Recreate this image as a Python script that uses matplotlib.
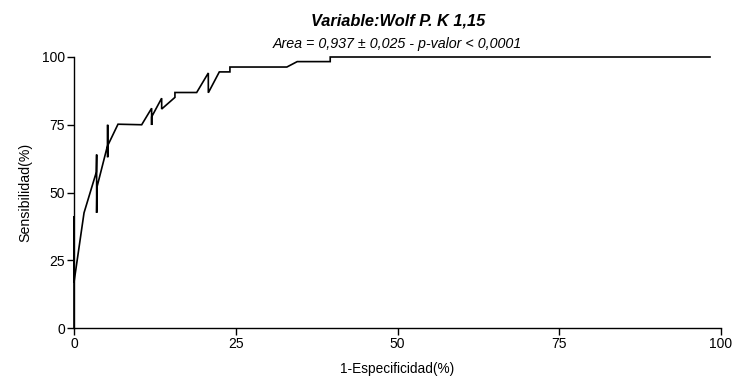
import matplotlib
matplotlib.use("Agg")
import matplotlib.pyplot as plt

plt.rcParams['font.family'] = ['Liberation Sans', 'DejaVu Sans']

# ROC curve vertices (1-Especificidad %, Sensibilidad %)
fpr = [0, 0, 0, 1.55, 3.45, 3.5, 3.5, 3.55, 5.2, 5.2, 5.2, 5.25, 6.8,
       10.46, 12.0, 12.0, 12.0, 13.55, 13.55, 15.6, 15.6, 18.96, 20.76,
       20.76, 22.46, 24.1, 24.1, 32.9, 34.5, 39.6, 39.6, 98.3]
tpr = [0, 41.2, 16.9, 42.5, 57.5, 64.0, 42.5, 52.0, 67.5, 75.0, 63.0, 67.5, 75.2,
       75.0, 81.1, 74.9, 77.9, 84.8, 80.8, 85.1, 86.9, 86.9, 94.1,
       86.8, 94.5, 94.5, 96.3, 96.3, 98.3, 98.3, 100.0, 100.0]

xticks = [0, 25, 50, 75, 100]
yticks = [0, 25, 50, 75, 100]

title = "Variable:Wolf P. K 1,15"
subtitle = "Area = 0,937 ± 0,025 - p-valor < 0,0001"

fig = plt.figure(figsize=(7.36, 3.81), dpi=100)
ax = fig.add_axes([74/736, 1-328/381, (721-74)/736, (328-57)/381])

ax.plot(fpr, tpr, color='black', lw=1.2, clip_on=False, solid_joinstyle='miter')

ax.set_xlim(0, 100)
ax.set_ylim(0, 100)
ax.set_xticks(xticks)
ax.set_yticks(yticks)
ax.set_xticklabels([str(v) for v in xticks], fontsize=10)
ax.set_yticklabels([str(v) for v in yticks], fontsize=10)
ax.tick_params(direction='out', length=5, width=1.0, pad=1.5, colors='black')

for s in ['top', 'right']:
    ax.spines[s].set_visible(False)
for s in ['left', 'bottom']:
    ax.spines[s].set_linewidth(1.0)

ax.set_xlabel("1-Especificidad(%)", fontsize=9.8, labelpad=8)
ax.set_ylabel("Sensibilidad(%)", fontsize=10.2, labelpad=7)

fig.text(0.5404, 1-21/381, title, ha='center', va='center', fontsize=11.8,
         fontweight='bold', fontstyle='italic')
fig.text(0.5404, 1-44/381, subtitle, ha='center', va='center', fontsize=10.3,
         fontstyle='italic')

fig.savefig("out.png", dpi=100)
